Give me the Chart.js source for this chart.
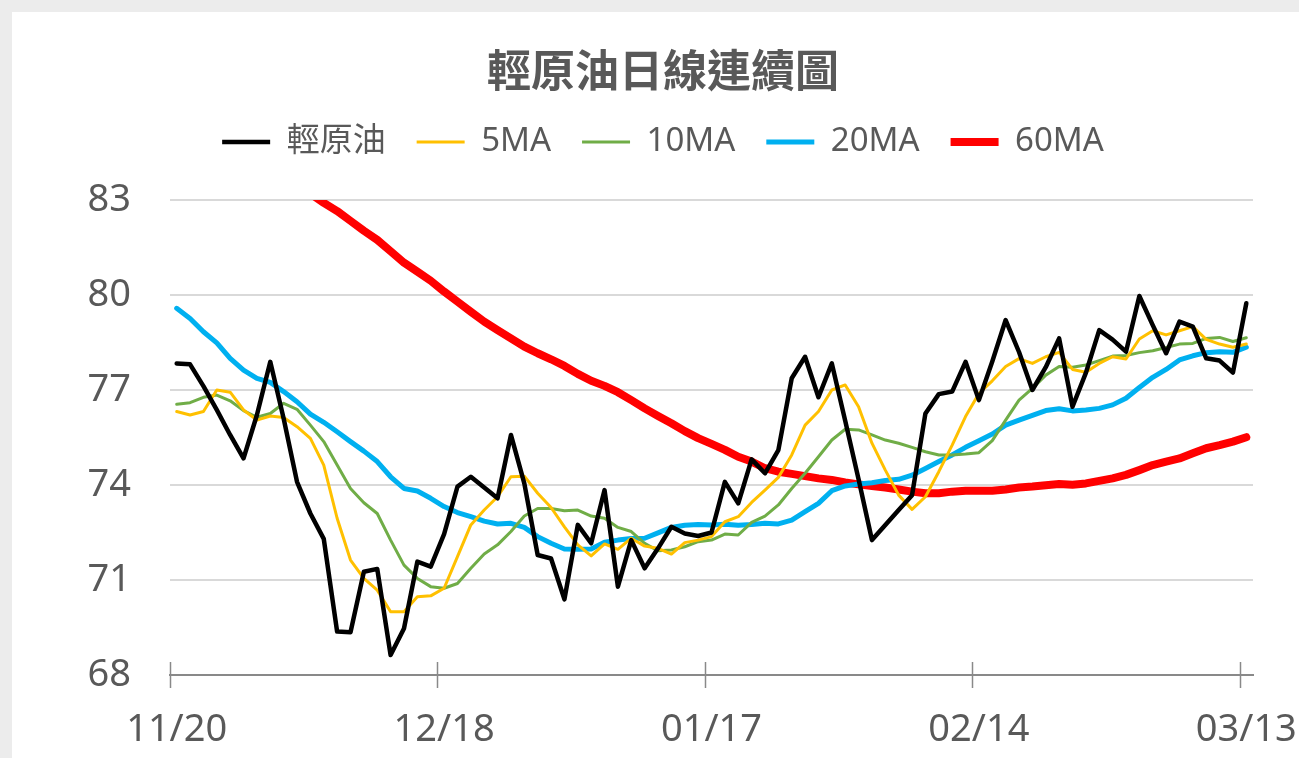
<!DOCTYPE html>
<html>
<head>
<meta charset="utf-8">
<title>輕原油日線連續圖</title>
<script src="https://cdn.jsdelivr.net/npm/chart.js@4.4.1/dist/chart.umd.min.js"></script>
<style>
  html, body { margin: 0; padding: 0; background: #ececec; }
  #wrap { position: absolute; left: 12px; top: 12px; width: 1287px; height: 746px; background: #ffffff; }
</style>
</head>
<body>
<div id="wrap"><canvas id="oilChart" width="1287" height="746"></canvas></div>
<script>
// x axis: one label every 20 trading days
const tickLabels = ['11/20', '12/18', '01/17', '02/14', '03/13'];
const tickEvery = 20;

// daily close
const closePrice = [
    77.84, 77.81, 77.12, 76.37, 75.58, 74.84, 76.21, 77.89, 76.10, 74.10,
    73.10, 72.30, 69.37, 69.35, 71.26, 71.35, 68.63, 69.47, 71.58, 71.42,
    72.45, 73.95, 74.26, 73.92, 73.58, 75.58, 74.05, 71.79, 71.68, 70.39,
    72.74, 72.16, 73.84, 70.79, 72.26, 71.37, 72.00, 72.68, 72.47, 72.39,
    72.50, 74.10, 73.42, 74.81, 74.37, 75.10, 77.37, 78.05, 76.77, 77.84,
    76.03, 74.18, 72.26, 72.74, 73.21, 73.68, 76.26, 76.87, 76.95, 77.89,
    76.68, 77.90, 79.21, 78.20, 77.00, 77.72, 78.63, 76.47, 77.54, 78.89,
    78.59, 78.21, 79.97, 79.05, 78.16, 79.16, 79.00, 78.00, 77.93, 77.55,
    79.74
];

const ma5 = [
    76.32, 76.21, 76.32, 77.00, 76.93, 76.37, 76.05, 76.18, 76.13, 75.84,
    75.47, 74.63, 72.95, 71.63, 71.05, 70.68, 70.00, 70.00, 70.47, 70.50,
    70.74, 71.74, 72.74, 73.21, 73.63, 74.26, 74.28, 73.74, 73.29, 72.68,
    72.11, 71.76, 72.14, 71.97, 72.32, 72.07, 72.00, 71.82, 72.18, 72.26,
    72.37, 72.84, 73.00, 73.45, 73.84, 74.24, 74.95, 75.89, 76.32, 77.00,
    77.16, 76.47, 75.32, 74.47, 73.68, 73.23, 73.63, 74.42, 75.26, 76.16,
    76.89, 77.29, 77.74, 77.99, 77.84, 78.05, 78.19, 77.65, 77.56, 77.84,
    78.05, 77.98, 78.61, 78.87, 78.74, 78.87, 79.00, 78.60, 78.45, 78.35,
    78.45
];

const ma10 = [
    76.55, 76.60, 76.77, 76.84, 76.66, 76.35, 76.14, 76.26, 76.58, 76.39,
    75.89, 75.37, 74.63, 73.89, 73.44, 73.10, 72.26, 71.47, 71.05, 70.79,
    70.74, 70.89, 71.37, 71.82, 72.11, 72.53, 73.02, 73.26, 73.26, 73.19,
    73.21, 73.02, 72.95, 72.66, 72.53, 72.16, 71.92, 71.95, 72.05, 72.21,
    72.26, 72.45, 72.42, 72.82, 73.02, 73.37, 73.89, 74.37, 74.89, 75.42,
    75.76, 75.74, 75.58, 75.42, 75.32, 75.19, 75.05, 74.95, 74.95, 74.98,
    75.02, 75.40, 76.05, 76.68, 77.05, 77.47, 77.74, 77.72, 77.79, 77.93,
    78.07, 78.09, 78.18, 78.24, 78.34, 78.45, 78.47, 78.63, 78.66, 78.53,
    78.65
];

const ma20 = [
    79.58, 79.26, 78.84, 78.49, 78.00, 77.63, 77.37, 77.24, 76.95, 76.63,
    76.24, 75.98, 75.68, 75.37, 75.07, 74.74, 74.26, 73.89, 73.81, 73.58,
    73.32, 73.13, 73.00, 72.86, 72.77, 72.79, 72.66, 72.37, 72.16, 71.98,
    71.97, 71.98, 72.19, 72.26, 72.31, 72.32, 72.49, 72.66, 72.73, 72.75,
    72.74, 72.76, 72.73, 72.75, 72.79, 72.77, 72.89, 73.16, 73.42, 73.82,
    73.97, 74.03, 74.07, 74.14, 74.18, 74.31, 74.52, 74.74, 74.95, 75.19,
    75.40, 75.61, 75.89, 76.05, 76.20, 76.35, 76.41, 76.34, 76.37, 76.42,
    76.53, 76.74, 77.08, 77.40, 77.65, 77.95, 78.08, 78.18, 78.21, 78.19,
    78.35
];

// the first values sit above the top of the axis and get clipped
const ma60 = [
    86.20, 85.90, 85.60, 85.30, 85.00, 84.70, 84.40, 84.10, 83.80, 83.50,
    83.20, 82.91, 82.65, 82.34, 82.03, 81.74, 81.38, 81.02, 80.74, 80.45,
    80.11, 79.79, 79.47, 79.16, 78.89, 78.63, 78.37, 78.16, 77.97, 77.76,
    77.51, 77.29, 77.13, 76.93, 76.68, 76.42, 76.18, 75.95, 75.70, 75.48,
    75.30, 75.11, 74.89, 74.74, 74.53, 74.42, 74.35, 74.28, 74.21, 74.16,
    74.08, 74.02, 73.97, 73.92, 73.86, 73.79, 73.74, 73.74, 73.79, 73.82,
    73.82, 73.82, 73.86, 73.92, 73.95, 73.99, 74.03, 74.01, 74.05, 74.13,
    74.21, 74.32, 74.47, 74.63, 74.74, 74.84, 75.00, 75.16, 75.26, 75.37,
    75.51
];

const FONT = "'Noto Sans', 'Noto Sans CJK TC', sans-serif";
const TEXT = '#595959';
const dayCount = closePrice.length;
const labels = closePrice.map((_, i) => i % tickEvery === 0 ? tickLabels[i / tickEvery] : '');

// excel style tick marks crossing the axis, between categories
const crossTicks = {
    id: 'crossTicks',
    beforeDatasetsDraw(chart) {
        const xs = chart.scales.x;
        const ctx = chart.ctx;
        const y0 = chart.chartArea.bottom;
        ctx.save();
        ctx.strokeStyle = '#898989';
        ctx.lineWidth = 1.5;
        for (let i = 0; i <= dayCount; i += tickEvery) {
            const px = Math.round(xs.getPixelForValue(i - 0.5)) + 0.5;
            ctx.beginPath();
            ctx.moveTo(px, y0 - 13);
            ctx.lineTo(px, y0 + 13);
            ctx.stroke();
        }
        ctx.restore();
    }
};

function line(label, data, color, width) {
    return {
        label: label,
        data: data,
        borderColor: color,
        backgroundColor: color,
        borderWidth: width,
        pointRadius: 0,
        pointHoverRadius: 0,
        tension: 0,
        borderJoinStyle: 'round',
        borderCapStyle: 'round'
    };
}

const ctx = document.getElementById('oilChart').getContext('2d');
new Chart(ctx, {
    type: 'line',
    data: {
        labels: labels,
        datasets: [
            line('輕原油', closePrice, '#000000', 4.5),
            line('5MA', ma5, '#FFC000', 3),
            line('10MA', ma10, '#70AD47', 3),
            line('20MA', ma20, '#00B0F0', 5),
            line('60MA', ma60, '#FF0000', 8)
        ]
    },
    options: {
        responsive: false,
        animation: false,
        devicePixelRatio: 1,
        layout: { padding: { left: 61, right: 46, top: 0, bottom: 0 } },
        plugins: {
            title: {
                display: true,
                text: '輕原油日線連續圖',
                color: TEXT,
                font: { family: FONT, size: 44, weight: 'bold', lineHeight: 1 },
                padding: { top: 40, bottom: -1.5 }
            },
            legend: {
                position: 'top',
                labels: {
                    usePointStyle: true,
                    pointStyle: 'line',
                    pointStyleWidth: 48,
                    padding: 31,
                    color: TEXT,
                    font: { family: FONT, size: 33 }
                }
            },
            tooltip: { enabled: false }
        },
        scales: {
            x: {
                type: 'category',
                offset: true,
                grid: { display: false, drawTicks: false },
                border: { display: true, color: '#898989', width: 2 },
                ticks: {
                    autoSkip: false,
                    maxRotation: 0,
                    padding: 32,
                    color: TEXT,
                    font: { family: FONT, size: 38 }
                },
                afterFit: s => {
                    s.height = 83;
                    // let the end labels hang over the edges like in excel
                    s.paddingLeft = 0;
                    s.paddingRight = 0;
                }
            },
            // empty top axis, only used as a gap under the legend
            xTop: {
                type: 'category',
                position: 'top',
                display: true,
                grid: { display: false, drawTicks: false },
                border: { display: false },
                ticks: { display: false },
                afterFit: s => { s.height = 31.5; }
            },
            y: {
                min: 68,
                max: 83,
                ticks: {
                    stepSize: 3,
                    padding: 39,
                    color: TEXT,
                    font: { family: FONT, size: 38 }
                },
                grid: { color: '#d9d9d9', lineWidth: 2, drawTicks: false },
                border: { display: false },
                afterFit: s => { s.width = 97; }
            }
        }
    },
    plugins: [crossTicks]
});
</script>
</body>
</html>
